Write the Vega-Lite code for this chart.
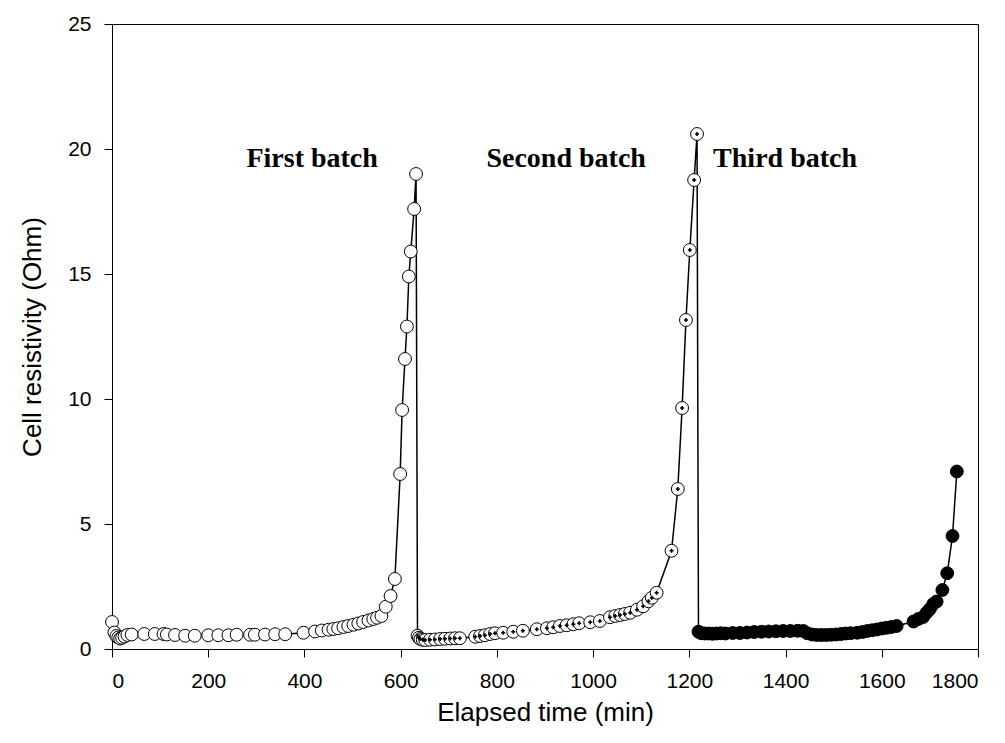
{
  "$schema": "https://vega.github.io/schema/vega-lite/v6.json",
  "autosize": "none",
  "width": 866,
  "height": 625,
  "padding": {"left": 112, "top": 24, "right": 27, "bottom": 94},
  "background": "white",
  "config": {
    "view": {"stroke": "black", "strokeWidth": 1},
    "axis": {
      "grid": false,
      "domainColor": "black",
      "tickColor": "black",
      "labelColor": "black",
      "titleColor": "black",
      "labelFont": "Liberation Sans",
      "titleFont": "Liberation Sans",
      "labelFontSize": 21,
      "titleFontSize": 26,
      "titleFontWeight": "normal",
      "tickSize": 8,
      "labelPadding": 13,
      "format": "d"
    }
  },
  "datasets": {
    "pts": [
      {"t": 0, "v": 1.08, "b": 1}, {"t": 5, "v": 0.66, "b": 1}, {"t": 9, "v": 0.52, "b": 1}, {"t": 13, "v": 0.46, "b": 1},
      {"t": 17, "v": 0.42, "b": 1}, {"t": 21, "v": 0.45, "b": 1}, {"t": 26, "v": 0.5, "b": 1}, {"t": 32, "v": 0.56, "b": 1},
      {"t": 41, "v": 0.58, "b": 1}, {"t": 67, "v": 0.6, "b": 1}, {"t": 89, "v": 0.6, "b": 1}, {"t": 107, "v": 0.6, "b": 1},
      {"t": 114, "v": 0.58, "b": 1}, {"t": 131, "v": 0.56, "b": 1}, {"t": 152, "v": 0.53, "b": 1}, {"t": 172, "v": 0.53, "b": 1},
      {"t": 200, "v": 0.55, "b": 1}, {"t": 221, "v": 0.55, "b": 1}, {"t": 242, "v": 0.55, "b": 1}, {"t": 259, "v": 0.57, "b": 1},
      {"t": 287, "v": 0.57, "b": 1}, {"t": 297, "v": 0.57, "b": 1}, {"t": 318, "v": 0.58, "b": 1}, {"t": 339, "v": 0.59, "b": 1},
      {"t": 360, "v": 0.59, "b": 1}, {"t": 398, "v": 0.65, "b": 1}, {"t": 422, "v": 0.7, "b": 1}, {"t": 436, "v": 0.74, "b": 1},
      {"t": 450, "v": 0.77, "b": 1}, {"t": 460, "v": 0.8, "b": 1}, {"t": 470, "v": 0.83, "b": 1}, {"t": 481, "v": 0.88, "b": 1},
      {"t": 491, "v": 0.92, "b": 1}, {"t": 502, "v": 0.97, "b": 1}, {"t": 512, "v": 1.02, "b": 1}, {"t": 522, "v": 1.08, "b": 1},
      {"t": 533, "v": 1.14, "b": 1}, {"t": 543, "v": 1.2, "b": 1}, {"t": 551, "v": 1.25, "b": 1}, {"t": 560, "v": 1.32, "b": 1},
      {"t": 569, "v": 1.69, "b": 1}, {"t": 579, "v": 2.12, "b": 1}, {"t": 588, "v": 2.8, "b": 1}, {"t": 599, "v": 7.0, "b": 1},
      {"t": 603, "v": 9.56, "b": 1}, {"t": 609, "v": 11.6, "b": 1}, {"t": 613, "v": 12.9, "b": 1}, {"t": 617, "v": 14.9, "b": 1},
      {"t": 621, "v": 15.9, "b": 1}, {"t": 628, "v": 17.6, "b": 1}, {"t": 632, "v": 19.0, "b": 1},
      {"t": 635, "v": 0.53, "b": 2}, {"t": 638, "v": 0.45, "b": 2}, {"t": 641, "v": 0.4, "b": 2}, {"t": 646, "v": 0.37, "b": 2},
      {"t": 651, "v": 0.36, "b": 2}, {"t": 661, "v": 0.37, "b": 2}, {"t": 671, "v": 0.38, "b": 2}, {"t": 682, "v": 0.4, "b": 2},
      {"t": 692, "v": 0.41, "b": 2}, {"t": 703, "v": 0.42, "b": 2}, {"t": 713, "v": 0.43, "b": 2}, {"t": 723, "v": 0.43, "b": 2},
      {"t": 755, "v": 0.49, "b": 2}, {"t": 765, "v": 0.52, "b": 2}, {"t": 775, "v": 0.55, "b": 2}, {"t": 786, "v": 0.6, "b": 2},
      {"t": 796, "v": 0.63, "b": 2}, {"t": 813, "v": 0.65, "b": 2}, {"t": 834, "v": 0.69, "b": 2}, {"t": 854, "v": 0.73, "b": 2},
      {"t": 883, "v": 0.79, "b": 2}, {"t": 904, "v": 0.83, "b": 2}, {"t": 917, "v": 0.87, "b": 2}, {"t": 931, "v": 0.92, "b": 2},
      {"t": 945, "v": 0.95, "b": 2}, {"t": 959, "v": 0.99, "b": 2}, {"t": 971, "v": 1.03, "b": 2}, {"t": 994, "v": 1.07, "b": 2},
      {"t": 1014, "v": 1.12, "b": 2}, {"t": 1035, "v": 1.27, "b": 2}, {"t": 1046, "v": 1.32, "b": 2}, {"t": 1056, "v": 1.36, "b": 2},
      {"t": 1066, "v": 1.4, "b": 2}, {"t": 1077, "v": 1.45, "b": 2}, {"t": 1091, "v": 1.57, "b": 2}, {"t": 1104, "v": 1.71, "b": 2},
      {"t": 1115, "v": 1.91, "b": 2}, {"t": 1122, "v": 2.05, "b": 2}, {"t": 1132, "v": 2.25, "b": 2}, {"t": 1163, "v": 3.93, "b": 2},
      {"t": 1176, "v": 6.4, "b": 2}, {"t": 1185, "v": 9.64, "b": 2}, {"t": 1193, "v": 13.16, "b": 2}, {"t": 1201, "v": 15.96, "b": 2},
      {"t": 1210, "v": 18.76, "b": 2}, {"t": 1216, "v": 20.6, "b": 2},
      {"t": 1219, "v": 0.69, "b": 3}, {"t": 1225, "v": 0.63, "b": 3}, {"t": 1232, "v": 0.62, "b": 3}, {"t": 1240, "v": 0.62, "b": 3},
      {"t": 1248, "v": 0.61, "b": 3}, {"t": 1256, "v": 0.62, "b": 3}, {"t": 1265, "v": 0.63, "b": 3}, {"t": 1275, "v": 0.62, "b": 3},
      {"t": 1290, "v": 0.64, "b": 3}, {"t": 1305, "v": 0.64, "b": 3}, {"t": 1320, "v": 0.66, "b": 3}, {"t": 1335, "v": 0.68, "b": 3},
      {"t": 1350, "v": 0.69, "b": 3}, {"t": 1365, "v": 0.7, "b": 3}, {"t": 1380, "v": 0.71, "b": 3}, {"t": 1395, "v": 0.72, "b": 3},
      {"t": 1410, "v": 0.72, "b": 3}, {"t": 1425, "v": 0.73, "b": 3}, {"t": 1437, "v": 0.72, "b": 3}, {"t": 1445, "v": 0.63, "b": 3},
      {"t": 1455, "v": 0.58, "b": 3}, {"t": 1465, "v": 0.56, "b": 3}, {"t": 1475, "v": 0.56, "b": 3}, {"t": 1485, "v": 0.56, "b": 3},
      {"t": 1495, "v": 0.57, "b": 3}, {"t": 1505, "v": 0.58, "b": 3}, {"t": 1515, "v": 0.6, "b": 3}, {"t": 1525, "v": 0.62, "b": 3},
      {"t": 1535, "v": 0.63, "b": 3}, {"t": 1549, "v": 0.65, "b": 3}, {"t": 1560, "v": 0.68, "b": 3}, {"t": 1570, "v": 0.72, "b": 3},
      {"t": 1580, "v": 0.75, "b": 3}, {"t": 1590, "v": 0.78, "b": 3}, {"t": 1600, "v": 0.82, "b": 3}, {"t": 1610, "v": 0.85, "b": 3},
      {"t": 1620, "v": 0.88, "b": 3}, {"t": 1631, "v": 0.92, "b": 3}, {"t": 1666, "v": 1.1, "b": 3}, {"t": 1676, "v": 1.2, "b": 3},
      {"t": 1686, "v": 1.28, "b": 3}, {"t": 1693, "v": 1.45, "b": 3}, {"t": 1700, "v": 1.6, "b": 3}, {"t": 1707, "v": 1.8, "b": 3},
      {"t": 1714, "v": 1.9, "b": 3}, {"t": 1726, "v": 2.36, "b": 3}, {"t": 1736, "v": 3.03, "b": 3}, {"t": 1747, "v": 4.52, "b": 3},
      {"t": 1756, "v": 7.1, "b": 3}
    ],
    "labels": [
      {"t": 416, "v": 19.6, "label": "First batch"},
      {"t": 944, "v": 19.6, "label": "Second batch"},
      {"t": 1399, "v": 19.6, "label": "Third batch"}
    ]
  },
  "layer": [
    {
      "data": {"name": "pts"},
      "mark": {"type": "line", "color": "black", "strokeWidth": 1.5, "clip": false},
      "encoding": {
        "x": {"field": "t", "type": "quantitative", "scale": {"domain": [0, 1800], "nice": false, "zero": false},
              "axis": {"values": [0, 200, 400, 600, 800, 1000, 1200, 1400, 1600, 1800], "title": "Elapsed time (min)", "titlePadding": 8}},
        "y": {"field": "v", "type": "quantitative", "scale": {"domain": [0, 25], "nice": false},
              "axis": {"values": [0, 5, 10, 15, 20, 25], "title": "Cell resistivity (Ohm)", "titlePadding": 22}},
        "order": {"field": "t", "type": "quantitative"}
      }
    },
    {
      "data": {"name": "pts"},
      "mark": {"type": "point", "shape": "circle", "filled": true, "size": 165, "stroke": "black", "strokeWidth": 1, "opacity": 1, "clip": false},
      "encoding": {
        "x": {"field": "t", "type": "quantitative"},
        "y": {"field": "v", "type": "quantitative"},
        "fill": {"field": "b", "type": "ordinal", "scale": {"domain": [1, 2, 3], "range": ["white", "white", "black"]}, "legend": null}
      }
    },
    {
      "data": {"name": "pts"},
      "transform": [{"filter": "datum.b == 2"}],
      "mark": {"type": "point", "shape": "cross", "filled": true, "size": 16, "color": "black", "opacity": 1},
      "encoding": {
        "x": {"field": "t", "type": "quantitative"},
        "y": {"field": "v", "type": "quantitative"}
      }
    },
    {
      "data": {"name": "labels"},
      "mark": {"type": "text", "font": "Liberation Serif", "fontWeight": "bold", "fontSize": 28, "color": "black", "baseline": "middle", "align": "center"},
      "encoding": {
        "x": {"field": "t", "type": "quantitative"},
        "y": {"field": "v", "type": "quantitative"},
        "text": {"field": "label"}
      }
    }
  ]
}
